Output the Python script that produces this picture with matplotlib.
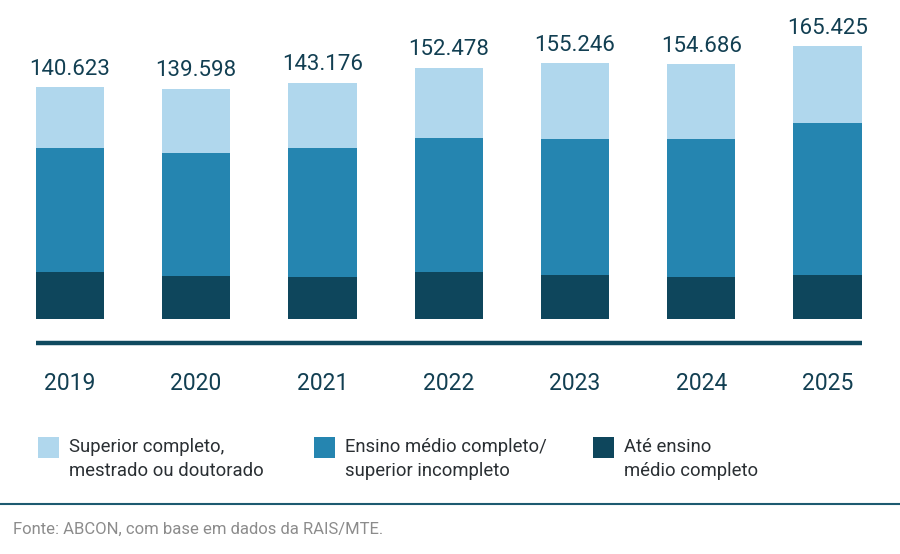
import numpy as np
import matplotlib
matplotlib.use("Agg")
import matplotlib.pyplot as plt
from matplotlib.lines import Line2D
from matplotlib.patches import Rectangle

plt.rcParams['font.family'] = ['Roboto', 'DejaVu Sans']

# dados
anos = ['2019', '2020', '2021', '2022', '2023', '2024', '2025']
ate_medio = [28630, 25985, 25657, 28665, 26780, 25725, 26960]
medio_sup_inc = [75090, 74940, 78260, 81420, 82600, 83577, 91903]
superior = [36903, 38673, 39259, 42393, 45866, 45384, 46562]
totais = [140623, 139598, 143176, 152478, 155246, 154686, 165425]

series = ['Superior completo,\nmestrado ou doutorado',
          'Ensino médio completo/\nsuperior incompleto',
          'Até ensino\nmédio completo']
cores = ['#b0d7ed', '#2585b0', '#0e465c']
txt = '#123f52'

W, H = 900, 554
fig = plt.figure(figsize=(9, 5.54), dpi=100)
fig.patch.set_facecolor('white')

# eixo: bars span x 35.7..861.7 px, baseline at y=319 px
ax = fig.add_axes([35.7 / W, (H - 319) / H, 826 / W, 319 / H])
x = np.arange(len(anos))
larg = 0.54
b1 = np.array(ate_medio)
b2 = b1 + np.array(medio_sup_inc)
ax.bar(x, ate_medio, larg, color=cores[2])
ax.bar(x, medio_sup_inc, larg, bottom=b1, color=cores[1])
ax.bar(x, superior, larg, bottom=b2, color=cores[0])
ax.set_xlim(-larg / 2, len(anos) - 1 + larg / 2)
ax.set_ylim(0, 319 * 607)

for xi, t in zip(x, totais):
    lab = f'{t:,}'.replace(',', '.')
    ax.annotate(lab, (xi, t), xytext=(0, 5.5), textcoords='offset points',
                ha='center', va='bottom', fontsize=16, color=txt)

ax.set_xticks(x)
ax.set_xticklabels(anos, fontsize=16.5, color=txt)
ax.tick_params(axis='x', length=0, pad=38)
ax.set_yticks([])
for s in ax.spines.values():
    s.set_visible(False)
ax.patch.set_alpha(0)

# linha grossa abaixo das barras
fig.add_artist(Line2D([35.7 / W, 861.7 / W], [(H - 343) / H] * 2,
                      color='#0f4a5f', lw=3.2, solid_capstyle='butt'))

# legenda
leg_x = [38.3, 314.3, 592.7]
for i, lx in enumerate(leg_x):
    fig.add_artist(Rectangle((lx / W, (H - 457.5) / H), 21 / W, 21 / H,
                             transform=fig.transFigure, color=cores[i], lw=0))
    fig.text((lx + 31) / W, (H - 438.5) / H, series[i], ha='left', va='top',
             fontsize=13.3, color='#2a2f33', linespacing=1.38)

# linha inferior e fonte
fig.add_artist(Line2D([0, 1], [(H - 504) / H] * 2, color='#1d5a70', lw=1.5))
fig.text(12.7 / W, (H - 529) / H, 'Fonte: ABCON, com base em dados da RAIS/MTE.',
         ha='left', va='center', fontsize=12, color='#8c8c8c')

fig.savefig('out.png', dpi=100, facecolor='white')
